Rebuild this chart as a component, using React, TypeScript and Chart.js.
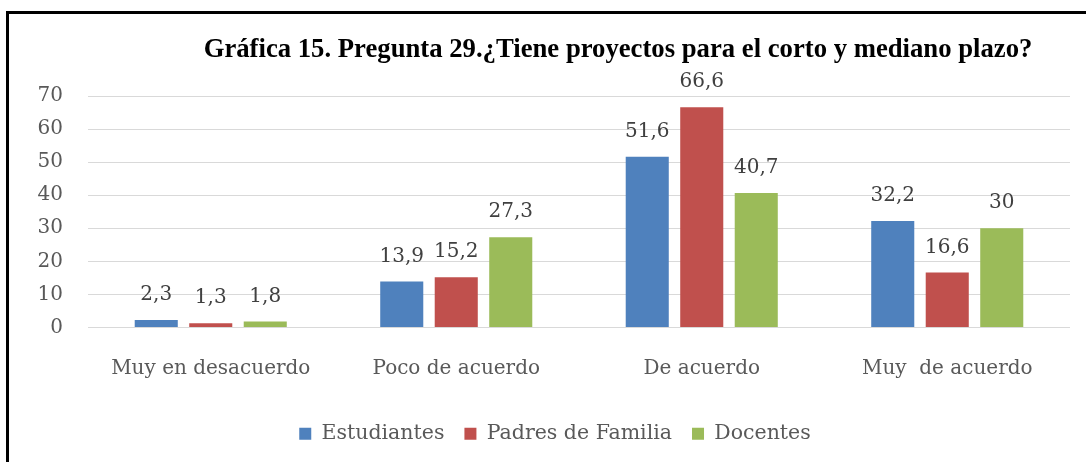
import React, { useEffect, useRef } from "react";
import { Chart, registerables } from "chart.js";

Chart.register(...registerables);

const categories = ["Muy en desacuerdo", "Poco de acuerdo", "De acuerdo", "Muy  de acuerdo"];
const seriesNames = ["Estudiantes", "Padres de Familia", "Docentes"];
const estudiantes = [2.3, 13.9, 51.6, 32.2];
const padres = [1.3, 15.2, 66.6, 16.6];
const docentes = [1.8, 27.3, 40.7, 30];
const yTicks = [0, 10, 20, 30, 40, 50, 60, 70];
const colors = ["#4F81BD", "#C0504D", "#9BBB59"];
const titleText = "Gráfica 15. Pregunta 29.¿Tiene proyectos para el corto y mediano plazo?";

const SERIF = "'DejaVu Serif', serif";

const fmt = (v: number) => String(v).replace(".", ",");

const labelsPlugin = {
  id: "valueLabels",
  afterDatasetsDraw(chart: any) {
    const ctx = chart.ctx;
    ctx.save();
    ctx.font = `20px ${SERIF}`;
    ctx.fillStyle = "#404040";
    ctx.textAlign = "center";
    ctx.textBaseline = "bottom";
    chart.data.datasets.forEach((ds: any, i: number) => {
      const meta = chart.getDatasetMeta(i);
      meta.data.forEach((bar: any, j: number) => {
        ctx.fillText(fmt(ds.data[j]), bar.x, bar.y - 15);
      });
    });
    ctx.restore();
  },
};

const titlePlugin = {
  id: "customTitle",
  afterDraw(chart: any) {
    const ctx = chart.ctx;
    ctx.save();
    ctx.font = `bold 26.7px 'Liberation Serif', serif`;
    ctx.fillStyle = "#000000";
    ctx.textAlign = "center";
    ctx.textBaseline = "alphabetic";
    ctx.fillText(titleText, 618, 57);
    ctx.restore();
  },
};

const legendShift = {
  id: "legendShift",
  afterLayout(chart: any) {
    if (chart.legend) {
      chart.legend.left += 20;
      chart.legend.right += 20;
    }
  },
};

export default function App() {
  const ref = useRef<HTMLCanvasElement>(null);

  useEffect(() => {
    if (!ref.current) return;
    const chart = new Chart(ref.current, {
      type: "bar",
      data: {
        labels: categories,
        datasets: [estudiantes, padres, docentes].map((d, i) => ({
          label: seriesNames[i],
          data: d,
          backgroundColor: colors[i],
          borderWidth: 0,
          barPercentage: 0.79,
          categoryPercentage: 0.666,
        })),
      },
      options: {
        responsive: false,
        animation: false,
        layout: { padding: { top: 96, right: 16, left: 0, bottom: 8 } },
        plugins: {
          title: { display: false },
          tooltip: { enabled: false },
          legend: {
            position: "bottom",
            labels: {
              boxWidth: 12,
              boxHeight: 12,
              color: "#595959",
              padding: 20,
              font: { family: SERIF, size: 20.5 },
            },
          },
        },
        scales: {
          x: {
            grid: { display: false },
            border: { display: false },
            ticks: {
              color: "#595959",
              padding: 21,
              font: { family: SERIF, size: 20 },
            },
            afterFit(scale: any) {
              scale.height = 76;
            },
          },
          y: {
            min: 0,
            max: 70,
            afterBuildTicks(scale: any) {
              scale.ticks = yTicks.map((v) => ({ value: v }));
            },
            grid: { color: "#D9D9D9", drawTicks: false },
            border: { display: false },
            ticks: {
              color: "#595959",
              padding: 25,
              font: { family: SERIF, size: 20 },
            },
            afterFit(scale: any) {
              scale.width = 88;
            },
          },
        },
      },
      plugins: [labelsPlugin, titlePlugin, legendShift],
    });
    return () => chart.destroy();
  }, []);

  return (
    <div style={{ position: "absolute", left: 0, top: 0, width: 1086, height: 462, background: "#fff", overflow: "hidden" }}>
      <canvas ref={ref} width={1086} height={462} style={{ position: "absolute", left: 0, top: 0 }} />
      <div
        style={{
          position: "absolute",
          left: 6,
          top: 11,
          width: 1100,
          height: 470,
          borderTop: "3px solid #000",
          borderLeft: "3px solid #000",
          pointerEvents: "none",
        }}
      />
    </div>
  );
}
